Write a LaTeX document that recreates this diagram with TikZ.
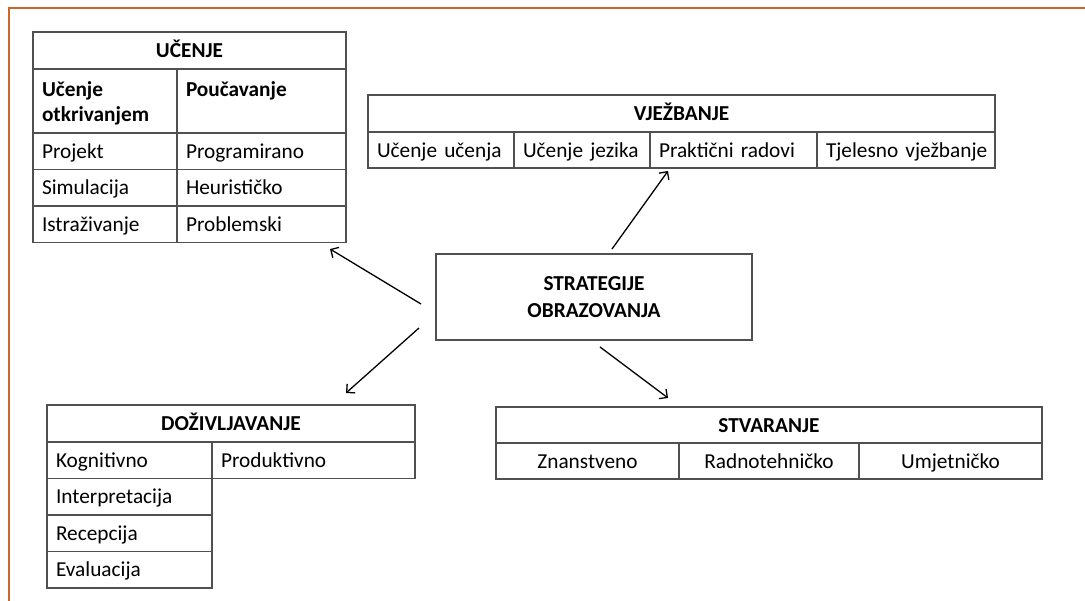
\documentclass[tikz,border=0pt]{standalone}
\usepackage{fontspec}
\setmainfont{Carlito}
\usetikzlibrary{positioning,calc,arrows.meta}
\definecolor{framecol}{RGB}{204,102,41}
\definecolor{gridcol}{RGB}{80,80,80}
\newcommand\sizeA{\fontsize{21.3}{25}\selectfont}
\newcommand\cellstrut{\rule[-0.3em]{0pt}{1.26em}}

\begin{document}
\begin{tikzpicture}[x=1pt, y=-1pt, line width=1.2pt]
\tikzset{
    hdr/.style = {draw=gridcol, anchor=north west, inner sep=0pt, outer sep=0pt, font=\sizeA\bfseries, execute at begin node=\cellstrut},
    cell/.style = {draw=gridcol, anchor=north west, inner xsep=9pt, inner ysep=0pt, outer sep=0pt, align=left, font=\sizeA, execute at begin node=\cellstrut},
    ccell/.style = {draw=gridcol, anchor=north west, inner sep=0pt, outer sep=0pt, font=\sizeA, execute at begin node=\cellstrut},
    pfeil/.style = {line width=1.3pt, -{Straight Barb[length=6pt,width=12pt]}}
}
\fill[white] (0,0) rectangle (1085,601);
\useasboundingbox (0,0) rectangle (1085,601);
\draw[framecol, line width=2pt] (1085,8) -- (9,8) -- (9,601);

% ucenje
\node[hdr, minimum width=313pt, minimum height=37pt] (ucH) at (33,32) {UČENJE};
\node[cell, font=\sizeA\bfseries, text width=126pt, minimum height=64pt] (ucA1) at (ucH.south west) {Učenje\\otkrivanjem};
\node[cell, font=\sizeA\bfseries, text width=151pt, minimum height=64pt] (ucB1) at (ucA1.north east) {Poučavanje\\\vphantom{j}};
\node[cell, text width=126pt, minimum height=36.5pt] (ucA2) at (ucA1.south west) {Projekt};
\node[cell, text width=151pt, minimum height=36.5pt] (ucB2) at (ucA2.north east) {Programirano};
\node[cell, text width=126pt, minimum height=36.5pt] (ucA3) at (ucA2.south west) {Simulacija};
\node[cell, text width=151pt, minimum height=36.5pt] (ucB3) at (ucA3.north east) {Heurističko};
\node[cell, text width=126pt, minimum height=36.5pt] (ucA4) at (ucA3.south west) {Istraživanje};
\node[cell, text width=151pt, minimum height=36.5pt] (ucB4) at (ucA4.north east) {Problemski};

% vjezbanje
\node[hdr, minimum width=627pt, minimum height=37pt] (vjH) at (368,95) {VJEŽBANJE};
\node[cell, text width=128pt, minimum height=36pt] (vj1) at (vjH.south west) {Učenje~učenja};
\node[cell, text width=118pt, minimum height=36pt] (vj2) at (vj1.north east) {Učenje~jezika};
\node[cell, text width=149pt, minimum height=36pt] (vj3) at (vj2.north east) {Praktični~radovi};
\node[cell, text width=160pt, minimum height=36pt] (vj4) at (vj3.north east) {Tjelesno~vježbanje};

% strategije
\node[draw=gridcol, anchor=north west, outer sep=0pt, minimum width=316pt, minimum height=86pt,
      align=center, font=\fontsize{21.3}{27}\selectfont\bfseries] (strat) at (436,254) {STRATEGIJE\\OBRAZOVANJA};

% dozivljavanje
\node[hdr, minimum width=368pt, minimum height=37pt] (dzH) at (47,405) {DOŽIVLJAVANJE};
\node[cell, text width=147pt, minimum height=36.5pt] (dzA1) at (dzH.south west) {Kognitivno};
\node[cell, text width=185pt, minimum height=36.5pt] (dzB1) at (dzA1.north east) {Produktivno};
\node[cell, text width=147pt, minimum height=36.5pt] (dzA2) at (dzA1.south west) {Interpretacija};
\node[cell, text width=147pt, minimum height=36.5pt] (dzA3) at (dzA2.south west) {Recepcija};
\node[cell, text width=147pt, minimum height=36.5pt] (dzA4) at (dzA3.south west) {Evaluacija};

% stvaranje
\node[hdr, minimum width=546pt, minimum height=36pt] (stH) at (496,407) {STVARANJE};
\node[ccell, minimum width=183pt, minimum height=36pt] (st1) at (stH.south west) {Znanstveno};
\node[ccell, minimum width=180pt, minimum height=36pt] (st2) at (st1.north east) {Radnotehničko};
\node[ccell, minimum width=183pt, minimum height=36pt] (st3) at (st2.north east) {Umjetničko};

% arrows
\coordinate (a1s) at ($(strat.west)+(-15,7)$);
\coordinate (a1e) at ($(ucB4.south east)+(-16,6.5)$);
\coordinate (a2s) at ($(strat.north)+(18,-5)$);
\coordinate (a2e) at ($(vj3.south west)+(18,3)$);
\coordinate (a3s) at ($(strat.south west)+(-17,-12)$);
\coordinate (a3e) at ($(dzH.north east)+(-69,-12)$);
\coordinate (a4s) at ($(strat.south)+(6,7)$);
\coordinate (a4e) at ($(stH.north west)+(172,-9)$);
\draw[pfeil] (a1s) -- (a1e);
\draw[pfeil] (a2s) -- (a2e);
\draw[pfeil] (a3s) -- (a3e);
\draw[pfeil] (a4s) -- (a4e);
\end{tikzpicture}
\end{document}
